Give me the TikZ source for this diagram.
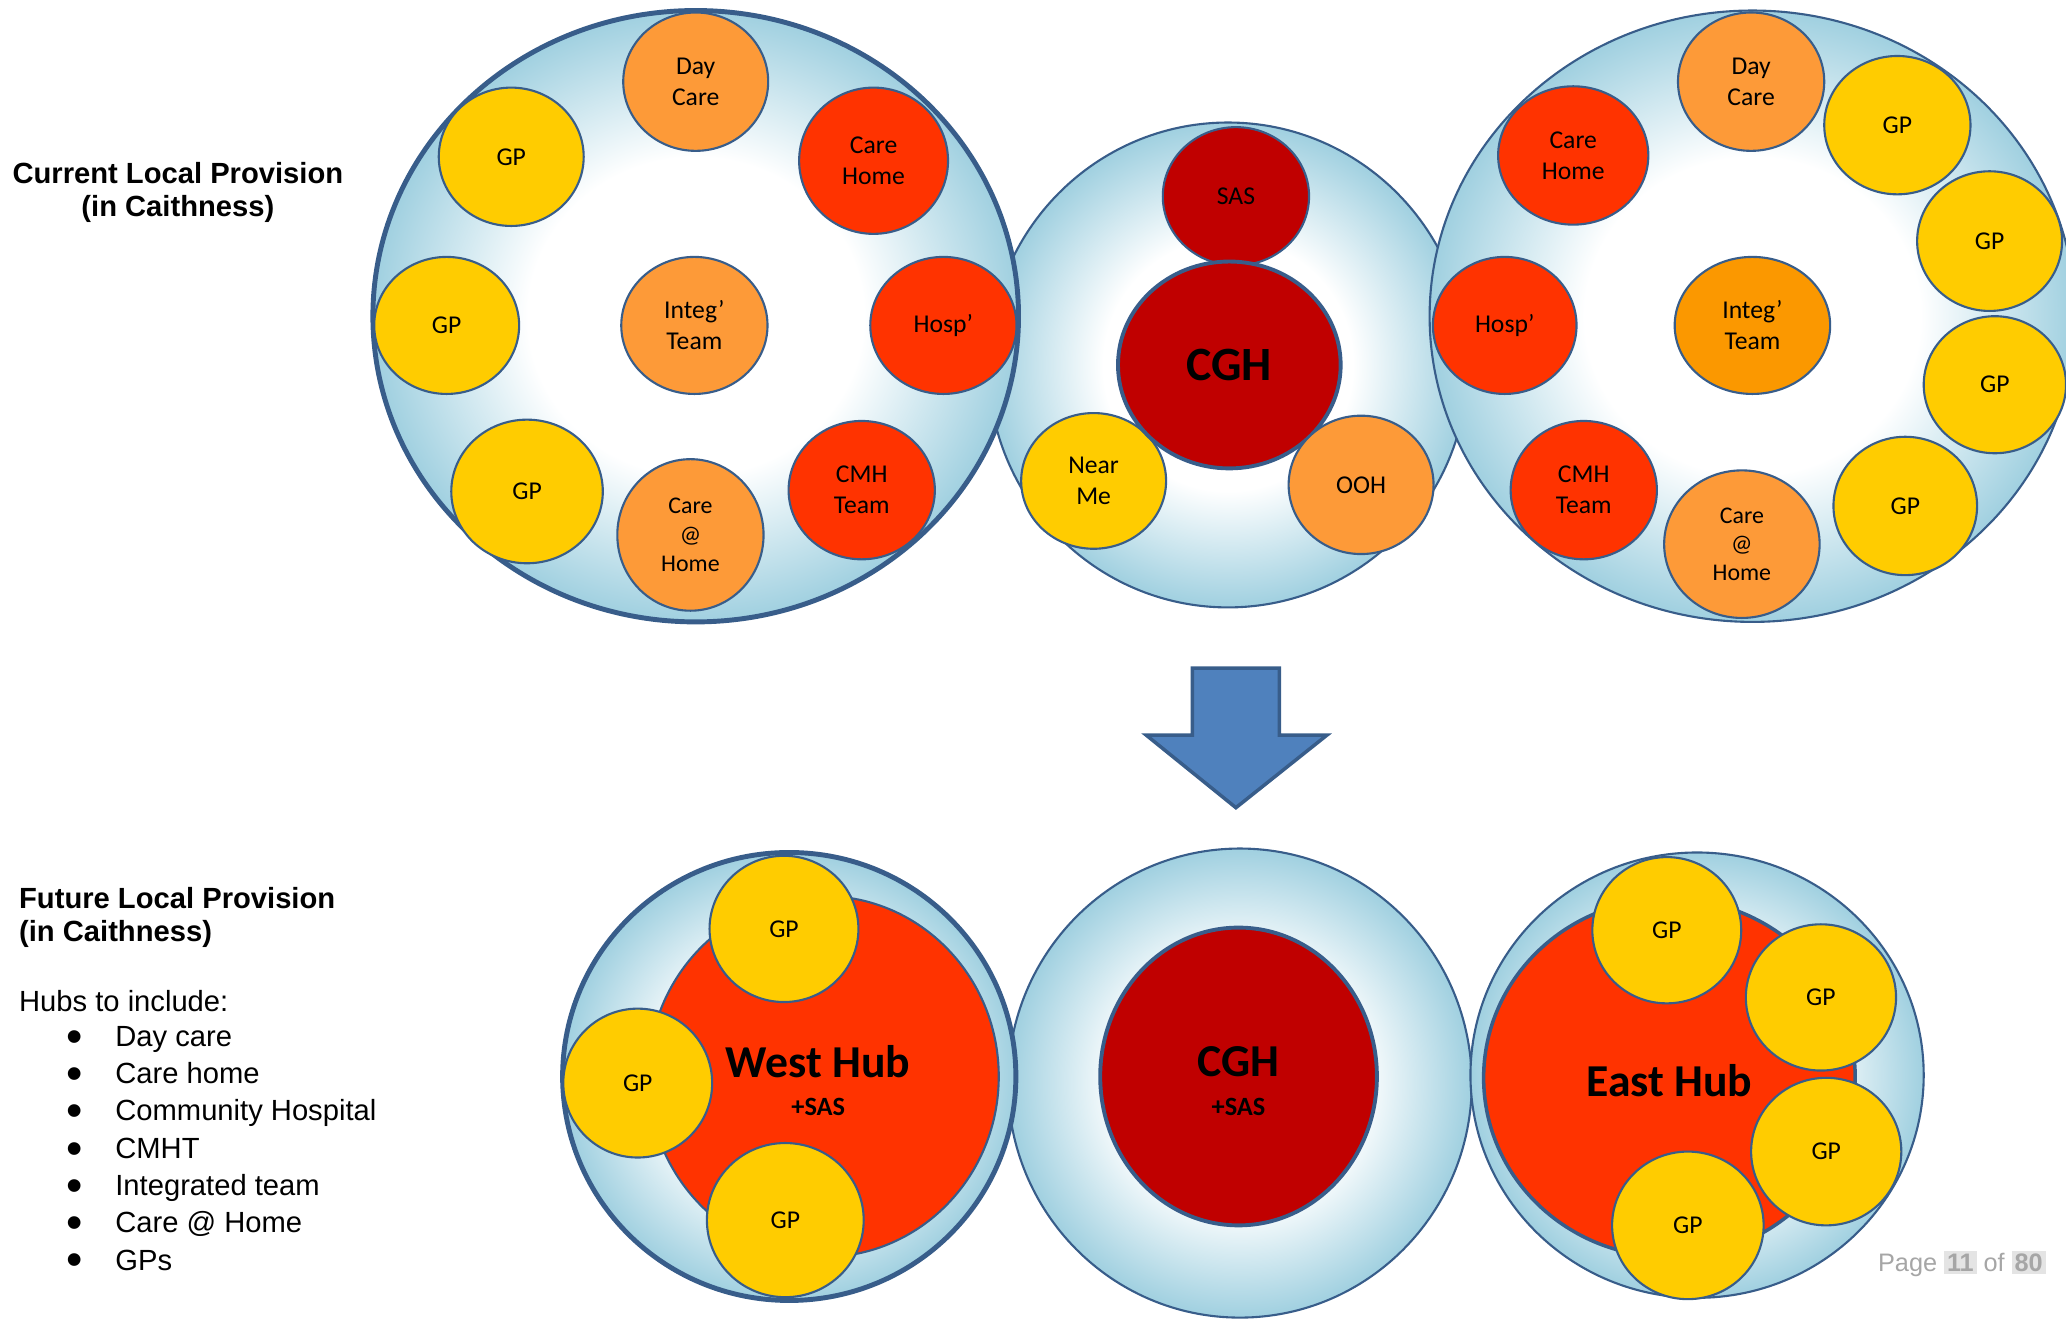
\documentclass[tikz,border=0pt]{standalone}
\usepackage{fontspec}
\setmainfont{Liberation Sans}
\newfontfamily\calib{Carlito}
\usetikzlibrary{shapes.geometric}

\definecolor{rim}{RGB}{56,93,138}
\definecolor{poolblue}{RGB}{160,208,224}
\definecolor{gpyellow}{RGB}{255,204,0}
\definecolor{svcorange}{RGB}{253,154,56}
\definecolor{teamorange}{RGB}{251,152,0}
\definecolor{svcred}{RGB}{255,51,0}
\definecolor{cghred}{RGB}{192,0,0}
\definecolor{arrowblue}{RGB}{79,129,189}
\definecolor{pagegrey}{RGB}{166,166,166}
\definecolor{pagebox}{RGB}{228,228,228}

\pgfdeclareradialshading{poolshade}{\pgfpointorigin}{color(0bp)=(white); color(13bp)=(white); color(25bp)=(poolblue); color(50bp)=(poolblue)}

\newcommand{\pix}{0.13176mm}

\begin{document}
\begin{tikzpicture}[x=\pix, y=-\pix,
	unit/.style={ellipse, draw=rim, line width=0.6pt, inner sep=0pt, align=center, font=\calib\fontsize{7.3}{8.8}\selectfont},
	dims/.style 2 args={minimum width=#1*\pix, minimum height=#2*\pix},
	gp/.style={unit, fill=gpyellow},
	orng/.style={unit, fill=svcorange},
	redsvc/.style={unit, fill=svcred},
	dark/.style={unit, fill=cghred},
	pool/.style={ellipse, draw=rim, line width=0.6pt, shade, shading=poolshade, inner sep=0pt},
	lefttxt/.style={font=\fontsize{8.3}{9.4}\selectfont, inner sep=0pt, text height=1.5ex, text depth=.25ex},
	bigname/.style={font=\calib\bfseries\fontsize{13}{15}\selectfont, inner sep=0pt},
	subname/.style={font=\calib\bfseries\fontsize{7.5}{9}\selectfont, inner sep=0pt}]
\useasboundingbox (0,0) rectangle (1568,1002);

% current provision
\node[pool, dims={364}{368}] (poolC) at (932,277) {};
\node[pool, dims={490}{464}, line width=1.4pt] (poolW) at (528,240) {};
\node[pool, dims={490}{464}] (poolE) at (1330,240) {};

\foreach \gx/\gy/\gw/\gh [count=\i] in {388/119/110/105, 339/247/110/104, 400/373/115/109,
	1440/95/111/105, 1510/183/110/106, 1514/292/108/104, 1446/384/109/105}
	{
	\node[gp, dims={\gw}{\gh}] (gpT\i) at (\gx,\gy) {GP};
	}

\node[orng, dims={110}{105}] (dayW) at (528,62) {Day\\Care};
\node[redsvc, dims={113}{111}] (careW) at (663,122) {Care\\Home};
\node[orng, dims={111}{104}] (integW) at (527,247) {Integ’\\Team};
\node[redsvc, dims={111}{104}] (hospW) at (716,247) {Hosp’};
\node[orng, dims={111}{115}, font=\calib\fontsize{6.8}{8.2}\selectfont] (athomeW) at (524,406) {Care\\@\\Home};
\node[redsvc, dims={111}{105}] (cmhW) at (654,372) {CMH\\Team};

\node[dark, dims={111}{105}] (sas) at (938,149) {SAS};
\node[gp, dims={110}{103}] (nearme) at (830,365) {Near\\Me};
\node[dark, dims={169}{157}, line width=1.1pt, font=\calib\bfseries\fontsize{13.6}{15}\selectfont] (cghA) at (933,277) {CGH};
\node[orng, dims={110}{105}] (ooh) at (1033,368) {OOH};

\node[orng, dims={111}{105}] (dayE) at (1329,62) {Day\\Care};
\node[redsvc, dims={114}{105}] (careE) at (1194,118) {Care\\Home};
\node[redsvc, dims={109}{104}] (hospE) at (1142,247) {Hosp’};
\node[unit, fill=teamorange, dims={118}{104}] (integE) at (1330,247) {Integ’\\Team};
\node[redsvc, dims={111}{105}] (cmhE) at (1202,372) {CMH\\Team};
\node[orng, dims={118}{112}, font=\calib\fontsize{6.8}{8.2}\selectfont] (athomeE) at (1322,413) {Care\\@\\Home};

\node[font=\bfseries\fontsize{8.3}{9.4}\selectfont, align=center, inner sep=0pt] (nowlbl) at (135,146) {Current Local Provision\\(in Caithness)};

% arrow
\draw[draw=rim, fill=arrowblue, line width=1pt] (905,507) -- (971,507) -- (971,558) -- (1007,558)
	-- (938,613) -- (870,558) -- (905,558) -- cycle;

% future provision
\node[pool, dims={352}{356}] (poolCGH) at (941,822) {};
\node[pool, dims={344}{340}, line width=1.4pt] (poolWest) at (599,817) {};
\node[pool, dims={344}{338}] (poolEast) at (1288,816) {};

\node[unit, fill=svcred, dims={266}{274}] (hubW) at (625,817) {};
\node[unit, fill=cghred, dims={210}{226}, line width=1.1pt] (cghB) at (940,817) {};
\node[unit, fill=svcred, dims={282}{272}, line width=1pt] (hubE) at (1267,818) {};

\foreach \gx/\gy/\gw/\gh [count=\i] in {595/705/113/111, 484/822/113/113, 596/926/119/117,
	1265/706/113/111, 1382/757/114/111, 1386/874/114/112, 1281/930/115/112}
	{
	\node[gp, dims={\gw}{\gh}] (gpB\i) at (\gx,\gy) {GP};
	}

\node[bigname] (westname) at (621,806) {West Hub};
\node[subname] (westsas) at (621,840) {+SAS};
\node[bigname] (cghname) at (940,806) {CGH};
\node[subname] (cghsas) at (940,840) {+SAS};
\node[bigname] (eastname) at (1267,820) {East Hub};

\node[font=\bfseries\fontsize{8.3}{9.35}\selectfont, align=left, anchor=west, inner sep=0pt] (futurelbl) at (14,696) {Future Local Provision\\(in Caithness)};
\node[lefttxt, anchor=west] (hubs) at (14,759) {Hubs to include:};
\foreach \entry [count=\i] in {Day care, Care home, Community Hospital, CMHT, Integrated team, Care @ Home, GPs}
	{
	\node[lefttxt, anchor=west] (entry\i) at (50,757+28.3*\i)
		{\makebox[4.88mm][l]{\raisebox{-0.2em}{\scalebox{1.6}{•}}}\entry};
	}

\node[anchor=east, inner sep=0pt, text=pagegrey, font=\fontsize{7.2}{9}\selectfont] (pagelbl) at (1553,959)
	{\setlength{\fboxsep}{0.8pt}Page \colorbox{pagebox}{\textbf{11}} of \colorbox{pagebox}{\textbf{80}}};
\end{tikzpicture}
\end{document}
